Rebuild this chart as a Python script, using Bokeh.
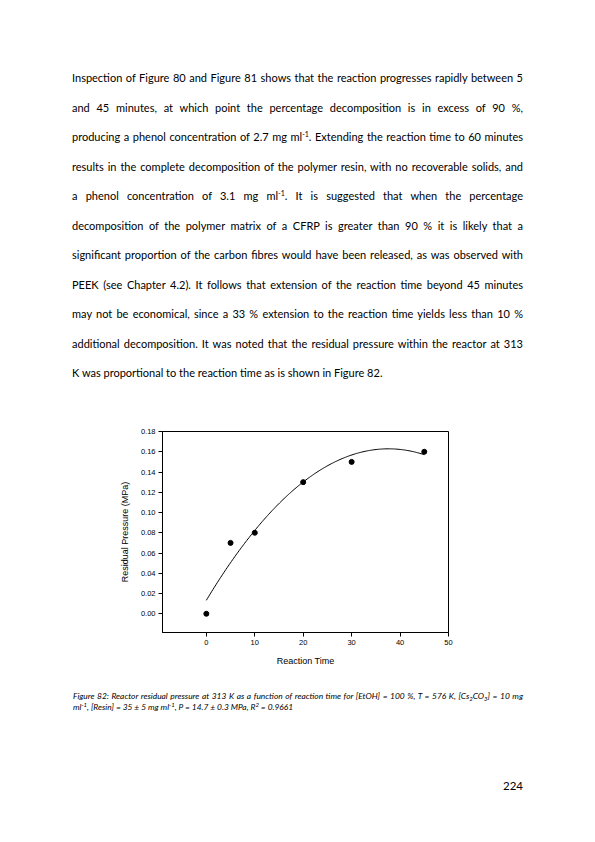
import numpy as np
from bokeh.plotting import figure
from bokeh.models import Div, FixedTicker, NumeralTickFormatter, Range1d
from bokeh.layouts import column
from bokeh.embed import file_html
from bokeh.resources import INLINE

reaction_time = [0, 5, 10, 20, 30, 45]
residual_pressure = [0.00, 0.07, 0.08, 0.13, 0.15, 0.16]
x_ticks = [0, 10, 20, 30, 40, 50]
y_ticks = [0.00, 0.02, 0.04, 0.06, 0.08, 0.10, 0.12, 0.14, 0.16, 0.18]

# régression polynomiale d'ordre 2 (R² = 0.9661 dans la légende)
coef = np.polyfit(reaction_time, residual_pressure, 2)
fit_x = np.linspace(min(reaction_time), max(reaction_time), 200)
fit_y = np.polyval(coef, fit_x)

SUP = '<span style="font-size:7px;vertical-align:4px;line-height:0">%s</span>'
body_lines = [
    "Inspection of Figure 80 and Figure 81 shows that the reaction progresses rapidly between 5",
    "and 45 minutes, at which point the percentage decomposition is in excess of 90 %,",
    "producing a phenol concentration of 2.7 mg ml" + SUP % "-1" + ". Extending the reaction time to 60 minutes",
    "results in the complete decomposition of the polymer resin, with no recoverable solids, and",
    "a phenol concentration of 3.1 mg ml" + SUP % "-1" + ". It is suggested that when the percentage",
    "decomposition of the polymer matrix of a CFRP is greater than 90 % it is likely that a",
    "significant proportion of the carbon fibres would have been released, as was observed with",
    "PEEK (see Chapter 4.2). It follows that extension of the reaction time beyond 45 minutes",
    "may not be economical, since a 33 % extension to the reaction time yields less than 10 %",
    "additional decomposition. It was noted that the residual pressure within the reactor at 313",
    "K was proportional to the reaction time as is shown in Figure 82.",
]

#### Texte du haut
rows = []
for i, l in enumerate(body_lines):
    align = "text-align:left" if i == len(body_lines) - 1 else "text-align:justify;text-align-last:justify"
    rows.append('<div style="%s">%s</div>' % (align, l))
body_html = ('<div style="margin-left:72px;width:451px;padding-top:63px;font-family:Lato;'
             'font-size:11px;line-height:29.5px;color:#000">' + "".join(rows) + "</div>")
header = Div(text=body_html, width=595, height=408, margin=0)

#### Graphique
p = figure(width=595, height=274, output_backend="svg", toolbar_location=None,
           min_border_left=162, min_border_right=147, min_border_top=23, min_border_bottom=50,
           x_range=Range1d(-9.05, 50), y_range=Range1d(-0.0185, 0.18),
           x_axis_label="Reaction Time", y_axis_label="Residual Pressure (MPa)")
p.grid.visible = False
p.outline_line_color = "black"
p.outline_line_width = 1
p.background_fill_color = "white"
p.border_fill_color = "white"

p.xaxis.ticker = FixedTicker(ticks=x_ticks)
p.yaxis.ticker = FixedTicker(ticks=y_ticks)
p.yaxis.formatter = NumeralTickFormatter(format="0.00")
for ax in (p.xaxis[0], p.yaxis[0]):
    ax.major_tick_in = 0
    ax.major_tick_out = 4
    ax.minor_tick_line_color = None
    ax.axis_line_color = "black"
    ax.major_tick_line_color = "black"
    ax.major_label_text_font = "Liberation Sans"
    ax.major_label_text_font_size = "7.5px"
    ax.major_label_text_color = "black"
    ax.major_label_standoff = 3
    ax.axis_label_text_font = "Liberation Sans"
    ax.axis_label_text_font_size = "9px"
    ax.axis_label_text_font_style = "normal"
    ax.axis_label_text_color = "black"
p.yaxis.axis_label_standoff = 8
p.xaxis.axis_label_standoff = 8

p.line(fit_x, fit_y, line_color="black", line_width=1)
p.scatter(reaction_time, residual_pressure, size=5, color="black")

#### Légende et numéro de page
sub = '<span style="font-size:6px;vertical-align:-1.5px;line-height:0">%s</span>'
sup = '<span style="font-size:6px;vertical-align:3px;line-height:0">%s</span>'
cap1 = ("Figure 82: Reactor residual pressure at 313 K as a function of reaction time for [EtOH] = 100 %, "
        "T = 576 K, [Cs" + sub % "2" + "CO" + sub % "3" + "] = 10 mg")
cap2 = ("ml" + sup % "-1" + ", [Resin] = 35 ± 5 mg ml" + sup % "-1" + ", P = 14.7 ± 0.3 MPa, R"
        + sup % "2" + " = 0.9661")
caption_html = (
    '<div style="position:relative;height:160px;font-family:Lato;color:#000">'
    '<div style="position:absolute;left:73px;top:9px;width:450px;font-size:8.4px;font-style:italic;line-height:11px">'
    '<div style="text-align:justify;text-align-last:justify">' + cap1 + '</div>'
    '<div>' + cap2 + '</div></div>'
    '<div style="position:absolute;left:423px;width:100px;top:96px;text-align:right;font-size:11.5px">224</div>'
    '</div>')
caption = Div(text=caption_html, width=595, height=160, margin=0)

page = column(header, p, caption, spacing=0)
open("out.html", "w").write(file_html(page, INLINE))
